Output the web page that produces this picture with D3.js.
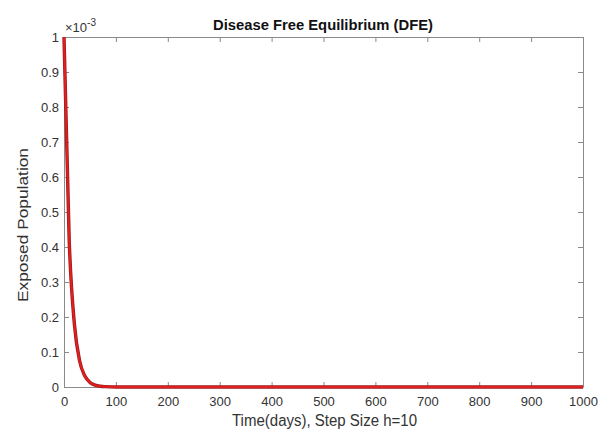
<!DOCTYPE html>
<html><head><meta charset="utf-8">
<script src="https://cdn.jsdelivr.net/npm/d3@7"></script>
<style>body{margin:0;background:#fff}svg{display:block}text{font-family:"Liberation Sans",Arial,sans-serif}</style>
</head><body><svg id="c" width="607" height="434"></svg>
<script>
const times = [0,10,20,30,40,50,60,70,80,90,100,200,300,400,500,600,700,800,900,1000];
const exposed = [1,0.42,0.18,0.075,0.032,0.013,0.0055,0.0023,0.001,0.0004,0.0002,0,0,0,0,0,0,0,0,0];
const xTicks = [0,100,200,300,400,500,600,700,800,900,1000];
const yTicks = [0,0.1,0.2,0.3,0.4,0.5,0.6,0.7,0.8,0.9,1];
const title = "Disease Free Equilibrium (DFE)";
const xLabel = "Time(days), Step Size h=10";
const yLabel = "Exposed Population";

const svg = d3.select("#c");
const m = {l:64, r:583, t:37, b:387};
const x = d3.scaleLinear().domain([0,1000]).range([m.l, m.r]);
const y = d3.scaleLinear().domain([0,1]).range([m.b, m.t]);
const axisCol = "#8a8a8a", textCol = "#333";

svg.append("rect").attr("x",m.l).attr("y",m.t).attr("width",m.r-m.l).attr("height",m.b-m.t).attr("fill","#fff");

function styleAxis(g){
  g.select(".domain").attr("stroke",axisCol);
  g.selectAll(".tick line").attr("stroke",axisCol);
  g.selectAll(".tick text").attr("fill",textCol).attr("font-size","13px");
}
const fmtY = d => d===0?"0":(d===1?"1":d3.format(".1f")(d));
svg.append("g").attr("transform",`translate(0,${m.b})`)
  .call(d3.axisBottom(x).tickValues(xTicks).tickSize(-5).tickPadding(10).tickFormat(d3.format("d")).tickSizeOuter(0))
  .call(styleAxis);
svg.append("g").attr("transform",`translate(0,${m.t})`)
  .call(d3.axisTop(x).tickValues(xTicks).tickSize(-5).tickFormat("").tickSizeOuter(0))
  .call(styleAxis);
svg.append("g").attr("transform",`translate(${m.l},0)`)
  .call(d3.axisLeft(y).tickValues(yTicks).tickSize(-5).tickPadding(5).tickFormat(fmtY).tickSizeOuter(0))
  .call(styleAxis);
svg.append("g").attr("transform",`translate(${m.r},0)`)
  .call(d3.axisRight(y).tickValues(yTicks).tickSize(-5).tickFormat("").tickSizeOuter(0))
  .call(styleAxis);

const data = times.map((t,i)=>[t,exposed[i]]);
const line = d3.line().curve(d3.curveMonotoneX).x(d=>x(d[0])).y(d=>y(d[1]));
svg.append("path").datum(data).attr("d",line).attr("fill","none")
  .attr("stroke","#a01818").attr("stroke-width",3.4).attr("stroke-linejoin","round");
svg.append("path").datum(data).attr("d",line).attr("fill","none")
  .attr("stroke","#e02020").attr("stroke-width",2).attr("stroke-linejoin","round");

const ex = svg.append("text").attr("x",m.l+1).attr("y",m.t-5).attr("fill",textCol).attr("font-size","13px");
ex.append("tspan").text("\u00d710");
ex.append("tspan").attr("dy",-6).attr("font-size","10px").text("-3");

svg.append("text").attr("x",213).attr("y",30)
  .attr("textLength",220).attr("lengthAdjust","spacingAndGlyphs")
  .attr("font-weight","bold").attr("font-size","14px").attr("fill","#111").text(title);
svg.append("text").attr("x",232).attr("y",426)
  .attr("textLength",185).attr("lengthAdjust","spacingAndGlyphs")
  .attr("font-size","16px").attr("fill",textCol).text(xLabel);
svg.append("text").attr("transform",`translate(28,302) rotate(-90)`)
  .attr("textLength",154).attr("lengthAdjust","spacingAndGlyphs")
  .attr("font-size","14px").attr("fill",textCol).text(yLabel);
</script></body></html>
